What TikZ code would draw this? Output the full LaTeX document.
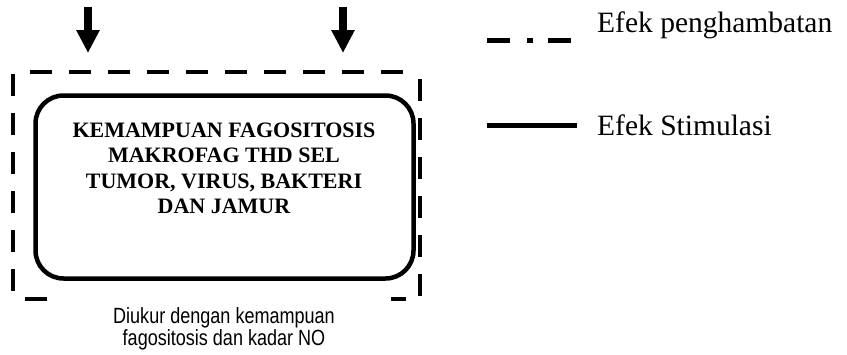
\documentclass[tikz,border=0pt]{standalone}
\usepackage{fontspec}
\setmainfont{Liberation Serif}
\newfontfamily\notefont[FakeStretch=0.82]{Liberation Sans}
\usetikzlibrary{arrows.meta}
\tikzstyle{target} = [draw=black, line width=4.5pt, rounded corners=28pt,
minimum width=378pt, minimum height=183pt, inner sep=0pt]
\tikzstyle{title} = [align=center, inner sep=0pt, anchor=base,
font=\fontsize{22}{25.5}\selectfont\bfseries]
\tikzstyle{note} = [align=center, inner sep=0pt, anchor=base,
font=\fontsize{22}{22}\selectfont\notefont]
\tikzstyle{legend} = [anchor=base west, inner sep=0pt,
font=\fontsize{29.5}{30}\selectfont]
\tikzstyle{inhibit} = [line width=4pt, dash pattern=on 22pt off 17pt]
\tikzstyle{inhibit key} = [line width=5pt, dash pattern=on 23pt off 17pt on 6pt off 15pt]
\tikzstyle{stimulate} = [line width=5pt]
\tikzstyle{down} = [line width=8pt, -{Triangle[length=23pt,width=22pt]}]

\begin{document}
\begin{tikzpicture}[x=1pt,y=-1pt]
  \useasboundingbox (0,0) rectangle (847,354);
  % incoming effects
  \coordinate (in1) at (88,7);
  \coordinate (in2) at (343,7);
  % corners of the dashed frame
  \coordinate (tl) at (30,72);  \coordinate (tr) at (408,72);
  \coordinate (lt) at (13,74);  \coordinate (lb) at (13,293);
  \coordinate (rt) at (420,79); \coordinate (rb) at (420,297);
  \coordinate (bl) at (25,299); \coordinate (br) at (406,299);

  \node[target] (box) at (224.5,187) {};
  % base anchor sits on the last line
  \node[title] (what) at (224,213.5) {KEMAMPUAN FAGOSITOSIS\\MAKROFAG THD SEL\\
    TUMOR, VIRUS, BAKTERI\\DAN JAMUR};
  \node[note] (how) at (224,345) {Diukur dengan kemampuan\\fagositosis dan kadar NO};

  \draw[down] (in1) -- (in1 |- 0,53);
  \draw[down] (in2) -- (in2 |- 0,53);

  \draw[inhibit] (tl) -- (tr);
  \draw[inhibit] (lt) -- (lb);
  \draw[inhibit] (rt) -- (rb);
  \draw[inhibit] (bl) -- ++(22,0);
  \draw[inhibit] (br) -- ++(-15,0);

  % legend
  \coordinate (k1) at (487,40);
  \coordinate (k2) at (487,125);
  \draw[inhibit key] (k1) -- ++(85,0);
  \draw[stimulate] (k2) -- ++(90,0);
  \node[legend] (k1-text) at (597,32) {Efek penghambatan};
  \node[legend] (k2-text) at (597,135) {Efek Stimulasi};
\end{tikzpicture}
\end{document}
